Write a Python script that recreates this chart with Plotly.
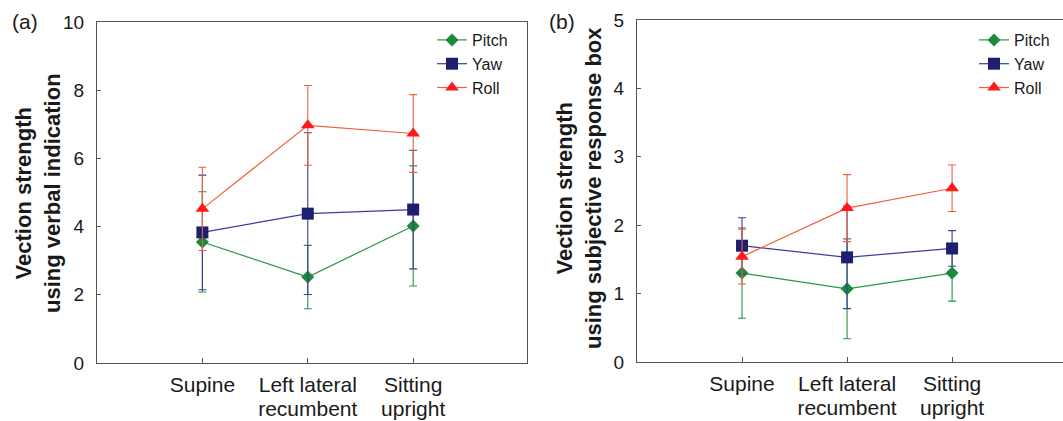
import plotly.graph_objects as go

# ---------------- data ----------------
positions = [0, 1, 2]
tick_line1 = ["Supine", "Left lateral", "Sitting"]
tick_line2 = ["", "recumbent", "upright"]
series_names = ["Pitch", "Yaw", "Roll"]

# Panel (a): verbal indication (mean, SD)
verbal_pitch = [3.55, 2.52, 4.02]
verbal_pitch_err = [1.47, 0.93, 1.76]
verbal_yaw = [3.83, 4.38, 4.50]
verbal_yaw_err = [1.68, 2.37, 1.74]
verbal_roll = [4.52, 6.97, 6.73]
verbal_roll_err = [1.22, 1.17, 1.14]

# Panel (b): subjective response box (mean, SD)
box_pitch = [1.30, 1.07, 1.30]
box_pitch_err = [0.66, 0.73, 0.41]
box_yaw = [1.70, 1.53, 1.66]
box_yaw_err = [0.41, 0.75, 0.26]
box_roll = [1.54, 2.25, 2.54]
box_roll_err = [0.40, 0.49, 0.34]

# ---------------- style ----------------
W, H = 1063, 421
FONT = "Liberation Sans, Arial, sans-serif"
TXT = "#1a1a1a"
AX = "#555555"
line_colors = {"Pitch": "#2a9448", "Yaw": "#3d3d96", "Roll": "#f0603c"}
marker_colors = {"Pitch": "#1b8a3a", "Yaw": "#1f1f72", "Roll": "#ff1a1a"}
symbols = {"Pitch": "diamond", "Yaw": "square", "Roll": "triangle-up"}
sizes = {"Pitch": 10, "Yaw": 12, "Roll": 12}

fig = go.Figure()

panels = [
    ("x", "y", "legend", [verbal_pitch, verbal_yaw, verbal_roll],
     [verbal_pitch_err, verbal_yaw_err, verbal_roll_err]),
    ("x2", "y2", "legend2", [box_pitch, box_yaw, box_roll],
     [box_pitch_err, box_yaw_err, box_roll_err]),
]
for xa, ya, lg, vals, errs in panels:
    for name, v, e in zip(series_names, vals, errs):
        fig.add_trace(go.Scatter(
            x=positions, y=v, name=name, mode="lines+markers",
            xaxis=xa, yaxis=ya, legend=lg,
            line=dict(color=line_colors[name], width=1.2),
            marker=dict(symbol=symbols[name], size=sizes[name],
                        color=marker_colors[name],
                        line=dict(width=0)),
            error_y=dict(type="data", array=e, visible=True,
                         color=line_colors[name], thickness=1.1, width=4),
        ))

# empty carriers so the overlaying axes (second label line) are drawn
for xa, ya in (("x3", "y"), ("x4", "y2")):
    fig.add_trace(go.Scatter(x=[None], y=[None], xaxis=xa, yaxis=ya,
                             mode="markers", showlegend=False,
                             hoverinfo="skip"))

def px_x(p):
    return p / W

def px_y(p):
    return 1 - p / H

XFONT = dict(family=FONT, size=21, color=TXT)
common_x = dict(
    tickmode="array", tickvals=positions, ticktext=tick_line1,
    ticks="inside", ticklen=5, tickcolor=AX, tickwidth=1,
    showline=True, linecolor=AX, linewidth=1.3, mirror=True,
    showgrid=False, zeroline=False, automargin=False,
    tickfont=XFONT, ticklabelstandoff=3,
)
# second line of the category labels on an overlaying axis
second_x = dict(
    tickmode="array", tickvals=positions, ticktext=tick_line2,
    ticks="", showline=False, showgrid=False, zeroline=False,
    automargin=False, tickfont=XFONT, ticklabelstandoff=31,
)
common_y = dict(
    ticks="inside", ticklen=4, tickcolor=AX, tickwidth=1,
    showline=True, linecolor=AX, linewidth=1.3,
    showgrid=False, zeroline=False, automargin=False,
    tickfont=dict(family=FONT, size=19, color=TXT),
    ticklabelstandoff=8,
)

dom_a = [px_x(97), px_x(527)]
dom_b = [px_x(637), 1.0]
fig.update_layout(
    width=W, height=H,
    margin=dict(l=0, r=0, t=0, b=0),
    paper_bgcolor="white", plot_bgcolor="white",
    font=dict(family=FONT, color=TXT),
    xaxis=dict(common_x, domain=dom_a, range=[-1, 3.08], anchor="y"),
    yaxis=dict(common_y, domain=[px_y(363), px_y(22)], range=[0, 10],
               tickvals=[0, 2, 4, 6, 8, 10], mirror=True, anchor="x"),
    xaxis2=dict(common_x, domain=dom_b, range=[-1, 3.056], anchor="y2"),
    yaxis2=dict(common_y, domain=[px_y(362), px_y(20)], range=[0, 5],
                tickvals=[0, 1, 2, 3, 4, 5], mirror=False, anchor="x2"),
    xaxis3=dict(second_x, domain=dom_a, range=[-1, 3.08], anchor="y",
                overlaying="x", side="bottom"),
    xaxis4=dict(second_x, domain=dom_b, range=[-1, 3.056], anchor="y2",
                overlaying="x2", side="bottom"),
    legend=dict(x=px_x(432), y=px_y(23), xanchor="left", yanchor="top",
                font=dict(family=FONT, size=16, color=TXT),
                bgcolor="rgba(0,0,0,0)", tracegroupgap=0),
    legend2=dict(x=px_x(974), y=px_y(23), xanchor="left", yanchor="top",
                 font=dict(family=FONT, size=16, color=TXT),
                 bgcolor="rgba(0,0,0,0)", tracegroupgap=0),
    showlegend=True,
)

annotations = [
    dict(text="Vection strength<br>using verbal indication", x=px_x(38), y=px_y(193),
         textangle=-90, font=dict(family=FONT, size=22, color=TXT, weight="bold")),
    dict(text="Vection strength<br>using subjective response box", x=px_x(579), y=px_y(188),
         textangle=-90, font=dict(family=FONT, size=22, color=TXT, weight="bold")),
    dict(text="(a)", x=px_x(25), y=px_y(22),
         font=dict(family=FONT, size=21, color=TXT)),
    dict(text="(b)", x=px_x(562), y=px_y(22),
         font=dict(family=FONT, size=21, color=TXT)),
]
for a in annotations:
    fig.add_annotation(xref="paper", yref="paper", showarrow=False,
                       xanchor="center", yanchor="middle", **a)

fig.write_html("out.html",
               config={"displayModeBar": False},
               post_script="document.body.style.margin='0';document.body.style.overflow='hidden';")
